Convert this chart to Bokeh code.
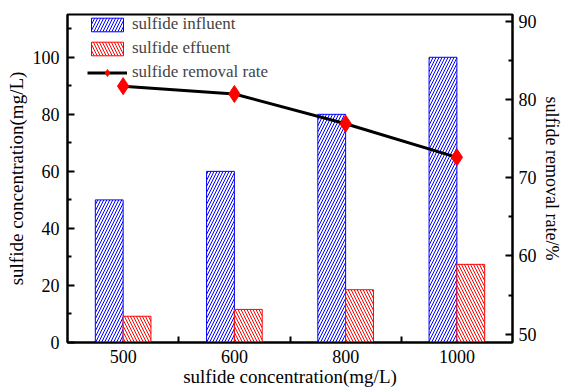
import numpy as np
from bokeh.plotting import figure
from bokeh.models import (Range1d, LinearAxis, FixedTicker,
                          Legend, LegendItem, ColumnDataSource)
from bokeh.embed import file_html
from bokeh.resources import INLINE

categories = ["500", "600", "800", "1000"]
influent = [50, 60, 80, 100]
effluent = [9.2, 11.6, 18.5, 27.4]
removal_rate = [81.7, 80.7, 76.9, 72.6]

FONT = "'Liberation Serif', serif"

xc = np.arange(len(categories)) + 0.5
src = ColumnDataSource(dict(
    x_in=xc - 0.125, x_ef=xc + 0.125, xc=xc,
    influent=influent, effluent=effluent, rate=removal_rate))

p = figure(width=564, height=389, output_backend="svg", toolbar_location=None,
           x_range=Range1d(0, len(categories)), y_range=Range1d(0, 115),
           min_border_left=67, min_border_right=48, min_border_top=14,
           min_border_bottom=47)
p.extra_y_ranges = {"rate": Range1d(48.93, 90.86)}

p.xgrid.visible = False
p.ygrid.visible = False
p.outline_line_color = "black"
p.outline_line_width = 2
p.background_fill_color = "white"
p.border_fill_color = "white"

r_in = p.vbar(x="x_in", top="influent", width=0.25, bottom=0, source=src,
              fill_color="white", line_color="blue", line_width=1,
              hatch_pattern="/", hatch_color="blue", hatch_scale=6, hatch_weight=1)
r_ef = p.vbar(x="x_ef", top="effluent", width=0.25, bottom=0, source=src,
              fill_color="white", line_color="red", line_width=1,
              hatch_pattern="\\", hatch_color="red", hatch_scale=6, hatch_weight=1)
r_line = p.line(x="xc", y="rate", source=src, y_range_name="rate",
                line_color="black", line_width=3)
r_pts = p.scatter(x="xc", y="rate", source=src, y_range_name="rate",
                  marker="diamond", size=17, fill_color="red", line_color="red")

# x axis
xa = p.xaxis[0]
xa.ticker = FixedTicker(ticks=list(xc), minor_ticks=[1, 2, 3])
xa.major_label_overrides = {float(v): c for v, c in zip(xc, categories)}
xa.axis_label = "sulfide concentration(mg/L)"

# left axis
ya = p.yaxis[0]
ya.ticker = FixedTicker(ticks=[0, 20, 40, 60, 80, 100],
                        minor_ticks=[10, 30, 50, 70, 90, 110])
ya.axis_label = "sulfide concentration(mg/L)"

# right axis
ra = LinearAxis(y_range_name="rate", axis_label="sulfide removal rate/%",
                ticker=FixedTicker(ticks=[50, 60, 70, 80, 90],
                                   minor_ticks=[55, 65, 75, 85]))
p.add_layout(ra, "right")

for ax in [xa, ya, ra]:
    ax.axis_line_width = 2
    ax.axis_line_color = "black"
    ax.major_tick_line_width = 2
    ax.minor_tick_line_width = 2
    ax.major_tick_out = 0
    ax.major_tick_in = 7
    ax.minor_tick_out = 0
    ax.minor_tick_in = 4
    ax.major_label_text_font = FONT
    ax.major_label_text_font_size = "18px"
    ax.major_label_text_color = "black"
    ax.axis_label_text_font = FONT
    ax.axis_label_text_font_size = "19px"
    ax.axis_label_text_font_style = "normal"
    ax.axis_label_text_color = "black"
    ax.major_label_standoff = 8
    ax.axis_label_standoff = 4

xa.major_tick_in = 0
xa.minor_tick_in = 6
xa.major_label_standoff = 7
xa.axis_label_standoff = 0
ya.axis_label_standoff = 3
ra.major_label_standoff = 6
ra.axis_label_standoff = 2
ra.axis_label_text_font_size = "18px"

legend = Legend(items=[
    LegendItem(label="sulfide influent", renderers=[r_in]),
    LegendItem(label="sulfide effuent", renderers=[r_ef]),
    LegendItem(label="sulfide removal rate", renderers=[r_line, r_pts]),
], location=(20, 260))
legend.border_line_color = None
legend.background_fill_alpha = 0
legend.label_text_font = FONT
legend.label_text_font_size = "17px"
legend.glyph_width = 40
legend.glyph_height = 17
legend.spacing = 4
legend.padding = 0
legend.margin = 0
legend.label_standoff = 5
p.add_layout(legend)

open("out.html", "w").write(file_html(p, INLINE))
